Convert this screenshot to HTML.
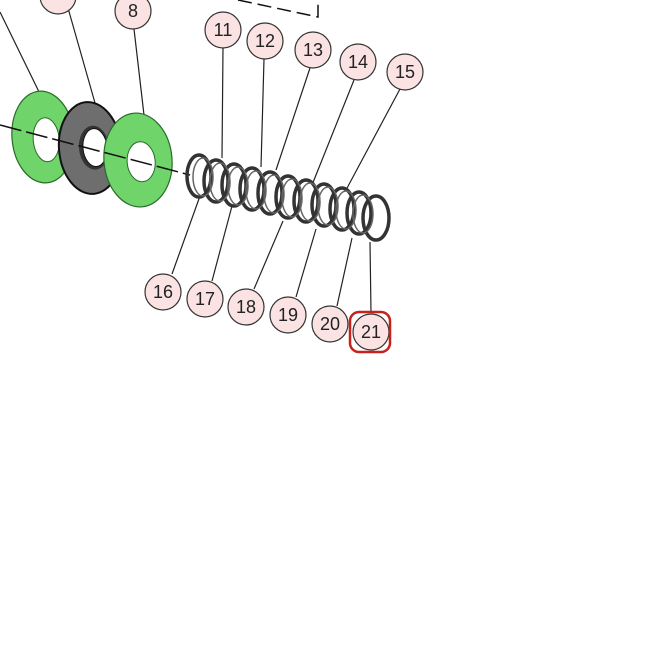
<!DOCTYPE html>
<html><head><style>body{margin:0;background:#fff}svg{display:block}</style></head><body>
<svg width="645" height="645" viewBox="0 0 645 645" xmlns="http://www.w3.org/2000/svg" font-family="Liberation Sans, sans-serif">
<rect width="645" height="645" fill="#fff"/>
<path d="M238,0 L318,17 L318,0" fill="none" stroke="#111" stroke-width="1.5" stroke-dasharray="14,6"/>
<g stroke="#222" stroke-width="1.2" fill="none">
<line x1="0" y1="12" x2="42" y2="98"/>
<line x1="68" y1="8" x2="97" y2="110"/>
<line x1="134" y1="29" x2="144" y2="115"/>
<line x1="223" y1="48" x2="222" y2="158"/>
<line x1="264" y1="59" x2="261" y2="167"/>
<line x1="310" y1="68" x2="276" y2="170"/>
<line x1="354" y1="80" x2="312" y2="185"/>
<line x1="400" y1="89" x2="346" y2="190"/>
<line x1="172" y1="274" x2="200" y2="196"/>
<line x1="212" y1="281" x2="232" y2="206"/>
<line x1="254" y1="289" x2="283" y2="221"/>
<line x1="296" y1="297" x2="316" y2="229"/>
<line x1="337" y1="306" x2="352" y2="238"/>
<line x1="371" y1="313" x2="370" y2="242"/>
</g>
<g transform="rotate(-5 43 137)">
<ellipse cx="43" cy="137" rx="31" ry="46" fill="#6fd46a" stroke="#2a6a2a" stroke-width="1.2"/>
<ellipse cx="46" cy="140" rx="13" ry="22" fill="#fff" stroke="#2a6a2a"/>
</g>
<g transform="rotate(-5 90 148)">
<ellipse cx="90" cy="148" rx="31" ry="46" fill="#6e6e6e" stroke="#111" stroke-width="2"/>
<ellipse cx="94" cy="148" rx="15" ry="22" fill="#333"/>
<ellipse cx="95" cy="148" rx="12" ry="19" fill="#fff" stroke="#111"/>
</g>
<g transform="rotate(-5 138 160)">
<ellipse cx="138" cy="160" rx="34" ry="47" fill="#6fd46a" stroke="#2a6a2a" stroke-width="1.2"/>
<ellipse cx="141" cy="162" rx="14" ry="20" fill="#fff" stroke="#2a6a2a"/>
</g>
<line x1="0" y1="125" x2="190" y2="175" stroke="#111" stroke-width="1.5" stroke-dasharray="22,5"/>
<g fill="none" stroke="#333">
<g stroke-width="3.5">
<ellipse cx="199" cy="176" rx="12" ry="21"/>
<ellipse cx="216" cy="181" rx="12" ry="21"/>
<ellipse cx="234" cy="185" rx="12" ry="21"/>
<ellipse cx="252" cy="189" rx="12" ry="21"/>
<ellipse cx="270" cy="193" rx="12" ry="21"/>
<ellipse cx="288" cy="197" rx="12" ry="21"/>
<ellipse cx="306" cy="201" rx="12" ry="21"/>
<ellipse cx="324" cy="205" rx="12" ry="21"/>
<ellipse cx="342" cy="209" rx="12" ry="21"/>
<ellipse cx="359" cy="213" rx="12" ry="21"/>
<ellipse cx="376" cy="218" rx="13" ry="22"/>
</g>
<g stroke-width="1.5" stroke="#666">
<ellipse cx="203" cy="177" rx="10" ry="19"/>
<ellipse cx="220" cy="182" rx="10" ry="19"/>
<ellipse cx="238" cy="186" rx="10" ry="19"/>
<ellipse cx="256" cy="190" rx="10" ry="19"/>
<ellipse cx="274" cy="194" rx="10" ry="19"/>
<ellipse cx="292" cy="198" rx="10" ry="19"/>
<ellipse cx="310" cy="202" rx="10" ry="19"/>
<ellipse cx="328" cy="206" rx="10" ry="19"/>
<ellipse cx="346" cy="210" rx="10" ry="19"/>
<ellipse cx="363" cy="214" rx="10" ry="19"/>
</g>
</g>
<g fill="#fbe3e3" stroke="#333" stroke-width="1.2">
<circle cx="58" cy="-4" r="18"/>
<circle cx="133" cy="11" r="18"/>
<circle cx="223" cy="30" r="18"/>
<circle cx="265" cy="41" r="18"/>
<circle cx="313" cy="50" r="18"/>
<circle cx="358" cy="62" r="18"/>
<circle cx="405" cy="72" r="18"/>
<circle cx="163" cy="292" r="18"/>
<circle cx="205" cy="299" r="18"/>
<circle cx="246" cy="307" r="18"/>
<circle cx="288" cy="315" r="18"/>
<circle cx="330" cy="324" r="18"/>
<circle cx="371" cy="332" r="18"/>
</g>
<rect x="350" y="312" width="40" height="40" rx="9" fill="none" stroke="#c8201c" stroke-width="2.5"/>
<g font-size="18" fill="#222" text-anchor="middle">
<text x="133" y="17">8</text>
<text x="223" y="36">11</text>
<text x="265" y="47">12</text>
<text x="313" y="56">13</text>
<text x="358" y="68">14</text>
<text x="405" y="78">15</text>
<text x="163" y="298">16</text>
<text x="205" y="305">17</text>
<text x="246" y="313">18</text>
<text x="288" y="321">19</text>
<text x="330" y="330">20</text>
<text x="371" y="338">21</text>
</g>
</svg>
</body></html>
